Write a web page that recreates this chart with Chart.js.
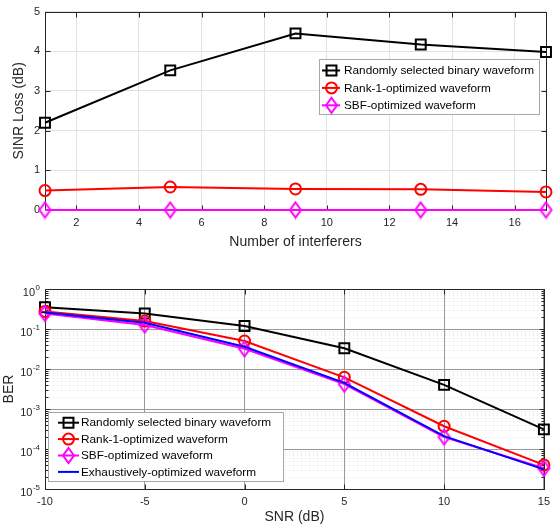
<!DOCTYPE html>
<html>
<head>
<meta charset="utf-8">
<script src="https://cdn.jsdelivr.net/npm/chart.js@4.4.0/dist/chart.umd.min.js"></script>
<style>
  body { margin: 0; background: #fff; }
  canvas { display: block; }
</style>
</head>
<body>
<canvas id="lossChart" width="556" height="263"></canvas>
<canvas id="berChart" width="556" height="263"></canvas>
<script>
// ---- data ----
const interferers = [1, 5, 9, 13, 17];
const lossRandom = [2.2, 3.52, 4.45, 4.17, 3.98];
const lossRank1 = [0.49, 0.58, 0.53, 0.52, 0.455];
const lossSBF = [0, 0, 0, 0, 0];

const snr = [-10, -5, 0, 5, 10, 15];
const berRandom = [0.35, 0.245, 0.119, 0.033, 0.004, 3.1e-4];
const berRank1 = [0.275, 0.158, 0.05, 0.0062, 3.7e-4, 4e-5];
const berSBF = [0.245, 0.126, 0.032, 0.0042, 2.0e-4, 3.3e-5];
const berExhaustive = [0.26, 0.144, 0.036, 0.0045, 2.1e-4, 3.1e-5];

const lossXTicks = [2, 4, 6, 8, 10, 12, 14, 16];
const lossYTicks = [0, 1, 2, 3, 4, 5];
const snrTicks = [-10, -5, 0, 5, 10, 15];
const berTicks = [1e-5, 1e-4, 1e-3, 1e-2, 1e-1, 1];

const seriesNames = [
  'Randomly selected binary waveform',
  'Rank-1-optimized waveform',
  'SBF-optimized waveform',
  'Exhaustively-optimized waveform'
];

const FONT = '"Liberation Sans", Arial, Helvetica, sans-serif';
const AXIS = '#262626';

function diamondMarker(color) {
  const c = document.createElement('canvas');
  c.width = 15; c.height = 19;
  const g = c.getContext('2d');
  g.strokeStyle = color;
  g.lineWidth = 2;
  g.beginPath();
  g.moveTo(7.5, 2); g.lineTo(13, 9.5); g.lineTo(7.5, 17); g.lineTo(2, 9.5);
  g.closePath();
  g.stroke();
  return c;
}

function line(ctx, x1, y1, x2, y2) {
  ctx.beginPath(); ctx.moveTo(x1, y1); ctx.lineTo(x2, y2); ctx.stroke();
}

// matlab-like box, inner ticks, minor grid, log labels and legend
const boxPlugin = {
  id: 'box',
  beforeDatasetsDraw(chart, args, opts) {
    const { ctx, chartArea: a, scales } = chart;
    ctx.save();
    if (opts.minor) {
      ctx.strokeStyle = '#e4e4e4';
      ctx.lineWidth = 1;
      ctx.setLineDash([1, 3]);
      opts.minor.forEach(v => {
        const y = Math.round(scales.y.getPixelForValue(v)) + 0.5;
        line(ctx, a.left, y, a.right, y);
      });
      ctx.setLineDash([]);
    }
    ctx.strokeStyle = AXIS;
    ctx.lineWidth = 1;
    const L = Math.round(a.left) + 0.5, R = Math.round(a.right) + 0.5;
    const T = Math.round(a.top) + 0.5, B = Math.round(a.bottom) + 0.5;
    ctx.strokeRect(L, T, R - L, B - T);
    scales.x.ticks.forEach(t => {
      const x = Math.round(scales.x.getPixelForValue(t.value)) + 0.5;
      line(ctx, x, B, x, B - 5);
      line(ctx, x, T, x, T + 5);
    });
    scales.y.ticks.forEach(t => {
      const y = Math.round(scales.y.getPixelForValue(t.value)) + 0.5;
      line(ctx, L, y, L + 5, y);
      line(ctx, R, y, R - 5, y);
    });
    if (opts.minor) {
      opts.minor.forEach(v => {
        const y = Math.round(scales.y.getPixelForValue(v)) + 0.5;
        line(ctx, L, y, L + 3, y);
        line(ctx, R, y, R - 3, y);
      });
    }
    ctx.restore();
  },
  afterDraw(chart, args, opts) {
    if (!opts.logLabels) return;
    const { ctx, scales } = chart;
    ctx.save();
    ctx.fillStyle = AXIS;
    ctx.textBaseline = 'middle';
    ctx.textAlign = 'right';
    scales.y.ticks.forEach(t => {
      const y = scales.y.getPixelForValue(t.value);
      const exp = String(Math.round(Math.log10(t.value)));
      ctx.font = '8px ' + FONT;
      const w = ctx.measureText(exp).width;
      ctx.fillText(exp, 40, y - 1.5);
      ctx.font = '11px ' + FONT;
      ctx.fillText('10', 40 - w - 0.5, y + 3.5);
    });
    ctx.restore();
  },
  afterDatasetsDraw(chart, args, opts) {
    const lg = opts.legend;
    if (!lg) return;
    const ctx = chart.ctx;
    const [bx, by, bw, bh] = lg.box;
    ctx.save();
    ctx.fillStyle = '#fff';
    ctx.fillRect(bx, by, bw, bh);
    ctx.strokeStyle = '#a8a8a8';
    ctx.lineWidth = 1;
    ctx.strokeRect(bx + 0.5, by + 0.5, bw, bh);
    chart.data.datasets.forEach((ds, i) => {
      const y = by + lg.first + i * lg.step;
      ctx.strokeStyle = ds.borderColor;
      ctx.lineWidth = ds.borderWidth;
      line(ctx, bx + lg.line[0], y, bx + lg.line[1], y);
      if (ds.pointRadius > 0) {
        ctx.fillStyle = 'rgba(0,0,0,0)';
        ctx.strokeStyle = ds.pointBorderColor;
        ctx.lineWidth = ds.pointBorderWidth;
        Chart.helpers.drawPoint(ctx, {
          pointStyle: ds.pointStyle, radius: ds.pointRadius,
          borderWidth: ds.pointBorderWidth, rotation: 0
        }, bx + lg.marker, y);
      }
      ctx.fillStyle = '#000';
      ctx.font = '11.8px ' + FONT;
      ctx.textBaseline = 'middle';
      ctx.textAlign = 'left';
      ctx.fillText(ds.label, bx + lg.text, y + 0.5);
    });
    ctx.restore();
  }
};

function series(label, xs, ys, color, style, radius, order) {
  return {
    label: label,
    data: xs.map((x, i) => ({ x: x, y: ys[i] })),
    borderColor: color,
    borderWidth: 2,
    pointStyle: style,
    pointRadius: radius,
    pointBorderColor: color,
    pointBorderWidth: 2,
    pointBackgroundColor: 'rgba(0,0,0,0)',
    tension: 0,
    clip: false,
    order: order
  };
}

const tickFont = { family: FONT, size: 11 };
const titleFont = { family: FONT, size: 14 };

window.onload = function () {
  Chart.register(boxPlugin);

  new Chart(document.getElementById('lossChart'), {
    type: 'line',
    data: {
      datasets: [
        series(seriesNames[0], interferers, lossRandom, '#000000', 'rect', 7, 3),
        series(seriesNames[1], interferers, lossRank1, '#ff0000', 'circle', 5.5, 2),
        series(seriesNames[2], interferers, lossSBF, '#ff00ff', diamondMarker('#ff00ff'), 7, 1)
      ]
    },
    options: {
      responsive: false,
      animation: false,
      events: [],
      layout: { padding: { left: 0, right: 10, top: 9, bottom: 0 } },
      plugins: {
        legend: { display: false },
        tooltip: { enabled: false },
        box: {
          legend: { box: [319, 59, 220, 55], first: 11.5, step: 17.4, line: [3, 21], marker: 12.5, text: 25 }
        }
      },
      scales: {
        x: {
          type: 'linear', min: 1, max: 17,
          afterBuildTicks: s => { s.ticks = lossXTicks.map(v => ({ value: v })); },
          afterFit: s => { s.height = 53; },
          grid: { color: '#e2e2e2', drawTicks: false },
          border: { display: false },
          ticks: { font: tickFont, color: AXIS, padding: 6, maxRotation: 0, autoSkip: false },
          title: { display: true, text: 'Number of interferers', font: titleFont, color: AXIS, padding: { top: 0, bottom: 12.6 } }
        },
        y: {
          type: 'linear', min: 0, max: 5,
          afterBuildTicks: s => { s.ticks = lossYTicks.map(v => ({ value: v })); },
          afterFit: s => { s.width = 45; },
          grid: { color: '#e2e2e2', drawTicks: false },
          border: { display: false },
          ticks: { font: tickFont, color: AXIS, padding: 5 },
          title: { display: true, text: 'SINR Loss (dB)', font: titleFont, color: AXIS, padding: { top: 10.6, bottom: 0 } }
        }
      }
    }
  });

  const minorBer = [];
  berTicks.slice(0, -1).forEach(d => { for (let m = 2; m <= 9; m++) minorBer.push(d * m); });

  new Chart(document.getElementById('berChart'), {
    type: 'line',
    data: {
      datasets: [
        series(seriesNames[0], snr, berRandom, '#000000', 'rect', 7, 4),
        series(seriesNames[1], snr, berRank1, '#ff0000', 'circle', 5.5, 3),
        series(seriesNames[2], snr, berSBF, '#ff00ff', diamondMarker('#ff00ff'), 7, 2),
        series(seriesNames[3], snr, berExhaustive, '#0000ff', 'circle', 0, 1)
      ]
    },
    options: {
      responsive: false,
      animation: false,
      events: [],
      layout: { padding: { left: 0, right: 11, top: 26, bottom: 0 } },
      plugins: {
        legend: { display: false },
        tooltip: { enabled: false },
        box: {
          minor: minorBer,
          logLabels: true,
          legend: { box: [48, 149, 235, 69], first: 10.7, step: 16.4, line: [10, 31], marker: 20.5, text: 33 }
        }
      },
      scales: {
        x: {
          type: 'linear', min: -10, max: 15,
          afterBuildTicks: s => { s.ticks = snrTicks.map(v => ({ value: v })); },
          afterFit: s => { s.height = 37; },
          grid: { color: '#9a9a9a', drawTicks: false },
          border: { display: false },
          ticks: { font: tickFont, color: AXIS, padding: 6, maxRotation: 0, autoSkip: false },
          title: { display: true, text: 'SNR (dB)', font: titleFont, color: AXIS, padding: { top: 0, bottom: 0 } }
        },
        y: {
          type: 'logarithmic', min: 1e-5, max: 1,
          afterBuildTicks: s => { s.ticks = berTicks.map(v => ({ value: v })); },
          afterFit: s => { s.width = 45; },
          grid: { color: '#9a9a9a', drawTicks: false },
          border: { display: false },
          ticks: { display: false },
          title: { display: true, text: 'BER', font: titleFont, color: AXIS, padding: { top: 0.6, bottom: 0 } }
        }
      }
    }
  });
};
</script>
</body>
</html>
